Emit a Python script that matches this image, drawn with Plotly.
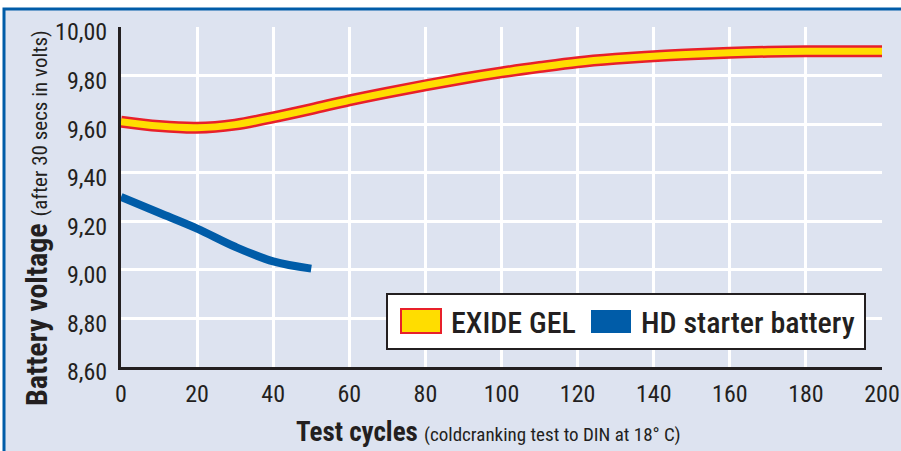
import plotly.graph_objects as go

cycles_gel = [0, 10, 20, 30, 40, 50, 60, 70, 80, 90, 100, 110, 120, 130, 140, 150, 160, 170, 180, 190, 200]
volts_gel = [9.61, 9.592, 9.585, 9.598, 9.628, 9.662, 9.698, 9.73, 9.76, 9.788, 9.813, 9.835, 9.855, 9.869, 9.88,
             9.888, 9.894, 9.898, 9.90, 9.90, 9.90]
cycles_hd = [0, 10, 20, 30, 40, 50]
volts_hd = [9.30, 9.235, 9.17, 9.095, 9.035, 9.005]
x_ticks = [0, 20, 40, 60, 80, 100, 120, 140, 160, 180, 200]
y_ticks = [8.6, 8.8, 9.0, 9.2, 9.4, 9.6, 9.8, 10.0]
y_tick_labels = ["8,60", "8,80", "9,00", "9,20", "9,40", "9,60", "9,80", "10,00"]
series_names = ["EXIDE GEL", "HD starter battery"]
x_title = ("Test cycles", "(coldcranking test to DIN at 18° C)")
y_title = ("Battery voltage", "(after 30 secs in volts)")

BG = "#dde3f0"
BLUE = "#005ca8"
YELLOW = "#ffdd00"
RED = "#e8202a"
INK = "#231f20"
FAM = "Roboto"


def cond(s):
    return "<span style='font-stretch:75%'>" + s + "</span>"


fig = go.Figure()
fig.add_trace(go.Scatter(x=cycles_hd, y=volts_hd, mode="lines", line=dict(color=BLUE, width=8, shape="spline"),
                         showlegend=False, hoverinfo="skip"))
fig.add_trace(go.Scatter(x=cycles_gel, y=volts_gel, mode="lines", line=dict(color=RED, width=12, shape="spline"),
                         showlegend=False, hoverinfo="skip"))
fig.add_trace(go.Scatter(x=cycles_gel, y=volts_gel, mode="lines", line=dict(color=YELLOW, width=7, shape="spline"),
                         showlegend=False, hoverinfo="skip"))

L, R, T, B = 121, 19, 27, 84
W, H = 901, 451
pw, ph = W - L - R, H - T - B


def px(xp):
    return (xp - L) / pw


def py(yp):
    return (H - B - yp) / ph


shapes = [
    dict(type="rect", xref="paper", yref="paper", x0=px(4), x1=px(910), y0=py(460), y1=py(9),
         fillcolor=BG, line=dict(color=BLUE, width=3), layer="below"),
    dict(type="rect", xref="paper", yref="paper", x0=px(387), x1=px(865), y0=py(349), y1=py(294),
         fillcolor="white", line=dict(color=INK, width=2), layer="above"),
    dict(type="rect", xref="paper", yref="paper", x0=px(401), x1=px(441), y0=py(333), y1=py(309),
         fillcolor=YELLOW, line=dict(color=RED, width=2), layer="above"),
    dict(type="rect", xref="paper", yref="paper", x0=px(591), x1=px(631), y0=py(333), y1=py(310),
         fillcolor=BLUE, line=dict(width=0), layer="above"),
]

annotations = [
    dict(xref="paper", yref="paper", x=px(449), y=py(322), xanchor="left", yanchor="middle",
         text=cond(series_names[0]), showarrow=False,
         font=dict(family=FAM, size=30, weight=500, color=INK)),
    dict(xref="paper", yref="paper", x=px(639), y=py(322), xanchor="left", yanchor="middle",
         text=cond(series_names[1]), showarrow=False,
         font=dict(family=FAM, size=30, weight=500, color=INK)),
    dict(xref="paper", yref="paper", x=px(488), y=py(432), xanchor="center", yanchor="middle",
         text=cond("<b>" + x_title[0] + "</b> <span style='font-size:19px'>" + x_title[1] + "</span>"),
         showarrow=False, font=dict(family=FAM, size=27, color=INK)),
    dict(xref="paper", yref="paper", x=px(36), y=py(218), xanchor="center", yanchor="middle", textangle=-90,
         text=cond("<b>" + y_title[0] + "</b> <span style='font-size:21px'>" + y_title[1] + "</span>"),
         showarrow=False, font=dict(family=FAM, size=30, color=INK)),
]

fig.update_layout(
    width=W, height=H, autosize=False,
    margin=dict(l=L, r=R, t=T, b=B, pad=0, autoexpand=False),
    paper_bgcolor="white", plot_bgcolor=BG,
    showlegend=False,
    shapes=shapes, annotations=annotations,
    font=dict(family=FAM, color=INK),
)
fig.update_xaxes(range=[0, 200], tickvals=x_ticks, ticktext=[cond(str(v)) for v in x_ticks],
                 showgrid=True, gridcolor="white", gridwidth=3, automargin=False,
                 showline=True, linecolor=INK, linewidth=3, zeroline=False,
                 tickfont=dict(size=24), ticks="", ticklabelstandoff=3)
fig.update_yaxes(range=[8.6, 10.0], tickvals=y_ticks, ticktext=[cond(s) for s in y_tick_labels],
                 showgrid=True, gridcolor="white", gridwidth=3, automargin=False,
                 showline=True, linecolor=INK, linewidth=3, zeroline=False,
                 tickfont=dict(size=24), ticks="", ticklabelstandoff=6, ticklabelshift=5)

fig.write_html("out.html", config={"displayModeBar": False, "responsive": False},
               post_script="document.body.style.margin='0';document.body.style.overflow='hidden';")
